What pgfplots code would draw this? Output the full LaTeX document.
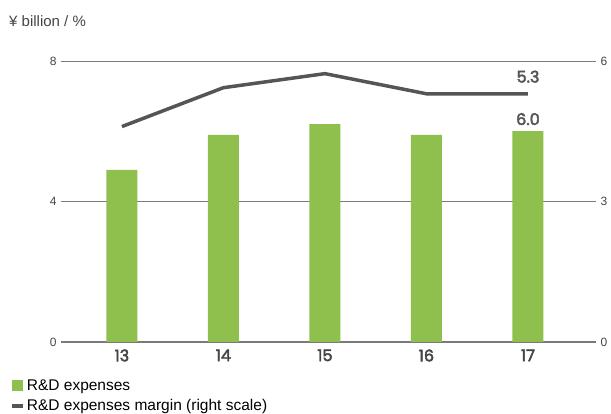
\documentclass[border=0pt]{standalone}
\usepackage{pgfplots}
\pgfplotsset{compat=1.18}
\usepackage{fontspec}
\setmainfont{Liberation Sans}
\newfontfamily\numfont{Poppins}
\newcommand\semib[1]{\special{pdf:literal direct 2 Tr 0.45 w}#1\special{pdf:literal direct 0 Tr}}
\definecolor{bargreen}{HTML}{8FBF4C}
\definecolor{linegray}{HTML}{555555}
\definecolor{txtgray}{HTML}{444444}
\definecolor{gridgray}{HTML}{7A7A7A}
\begin{document}
\begin{tikzpicture}[x=1pt,y=1pt]
\path[use as bounding box] (0,0) rectangle (611,414);
\node[anchor=west, text=txtgray, font=\fontsize{15}{17}\selectfont, inner sep=0pt] at (9,393) {¥ billion / \%};
\begin{axis}[
  at={(61pt,72pt)}, anchor=south west, scale only axis,
  width=535pt, height=281pt,
  xmin=-0.6, xmax=4.67, ymin=0, ymax=8,
  axis line style={draw=none},
  major tick length=0pt,
  xtick={0,1,2,3,4}, xticklabels={\semib{13},\semib{14},\semib{15},\semib{16},\semib{17}},
  ytick={4,8},
  extra y ticks={0}, extra y tick labels={0},
  extra y tick style={grid style={draw=gridgray, line width=1.8pt}},
  ymajorgrids, grid style={draw=gridgray, line width=0.8pt},
  /pgf/number format/assume math mode=true,
  yticklabel style={text=txtgray, font=\fontsize{12}{14}\selectfont, xshift=-1pt},
  xticklabel style={text=txtgray, font=\numfont\fontsize{16}{18}\selectfont, yshift=-4pt},
  legend style={at={(-0.095,-0.125)}, anchor=north west, draw=none, fill=none,
    font=\fontsize{15.5}{17}\selectfont, row sep=4pt, inner sep=0pt,
    nodes={inner sep=2pt}},
  legend cell align=left,
]
\addplot[ybar, bar width=31pt, fill=bargreen, draw=none,
  legend image code/.code={\fill[bargreen] (0pt,-5.5pt) rectangle (11pt,5.5pt);}]
  coordinates {(0,4.9) (1,5.9) (2,6.2) (3,5.9) (4,6.0)};
\addlegendentry{R\&D expenses}
\addlegendimage{legend image code/.code={\draw[linegray, line width=3.5pt] (0pt,0pt) -- (11pt,0pt);}}
\addlegendentry{R\&D expenses margin (right scale)}
\node[anchor=south, text=linegray, font=\numfont\fontsize{16}{18}\selectfont, inner sep=0pt] at (axis cs:4,6.0) [yshift=6pt] {\semib{6.0}};
\end{axis}
\begin{axis}[
  at={(61pt,72pt)}, anchor=south west, scale only axis,
  width=535pt, height=281pt,
  xmin=-0.6, xmax=4.67, ymin=0, ymax=6,
  axis line style={draw=none},
  major tick length=0pt,
  xtick=\empty,
  ytick={0,3,6},
  axis y line*=right,
  /pgf/number format/assume math mode=true,
  yticklabel style={text=txtgray, font=\fontsize{12}{14}\selectfont, xshift=1pt},
]
\addplot[linegray, line width=3.5pt, line join=round] coordinates {(0,4.6) (1,5.43) (2,5.73) (3,5.3) (4,5.3)};
\node[anchor=south, text=linegray, font=\numfont\fontsize{16}{18}\selectfont, inner sep=0pt] at (axis cs:4,5.3) [yshift=11pt] {\semib{5.3}};
\end{axis}
\end{tikzpicture}
\end{document}
